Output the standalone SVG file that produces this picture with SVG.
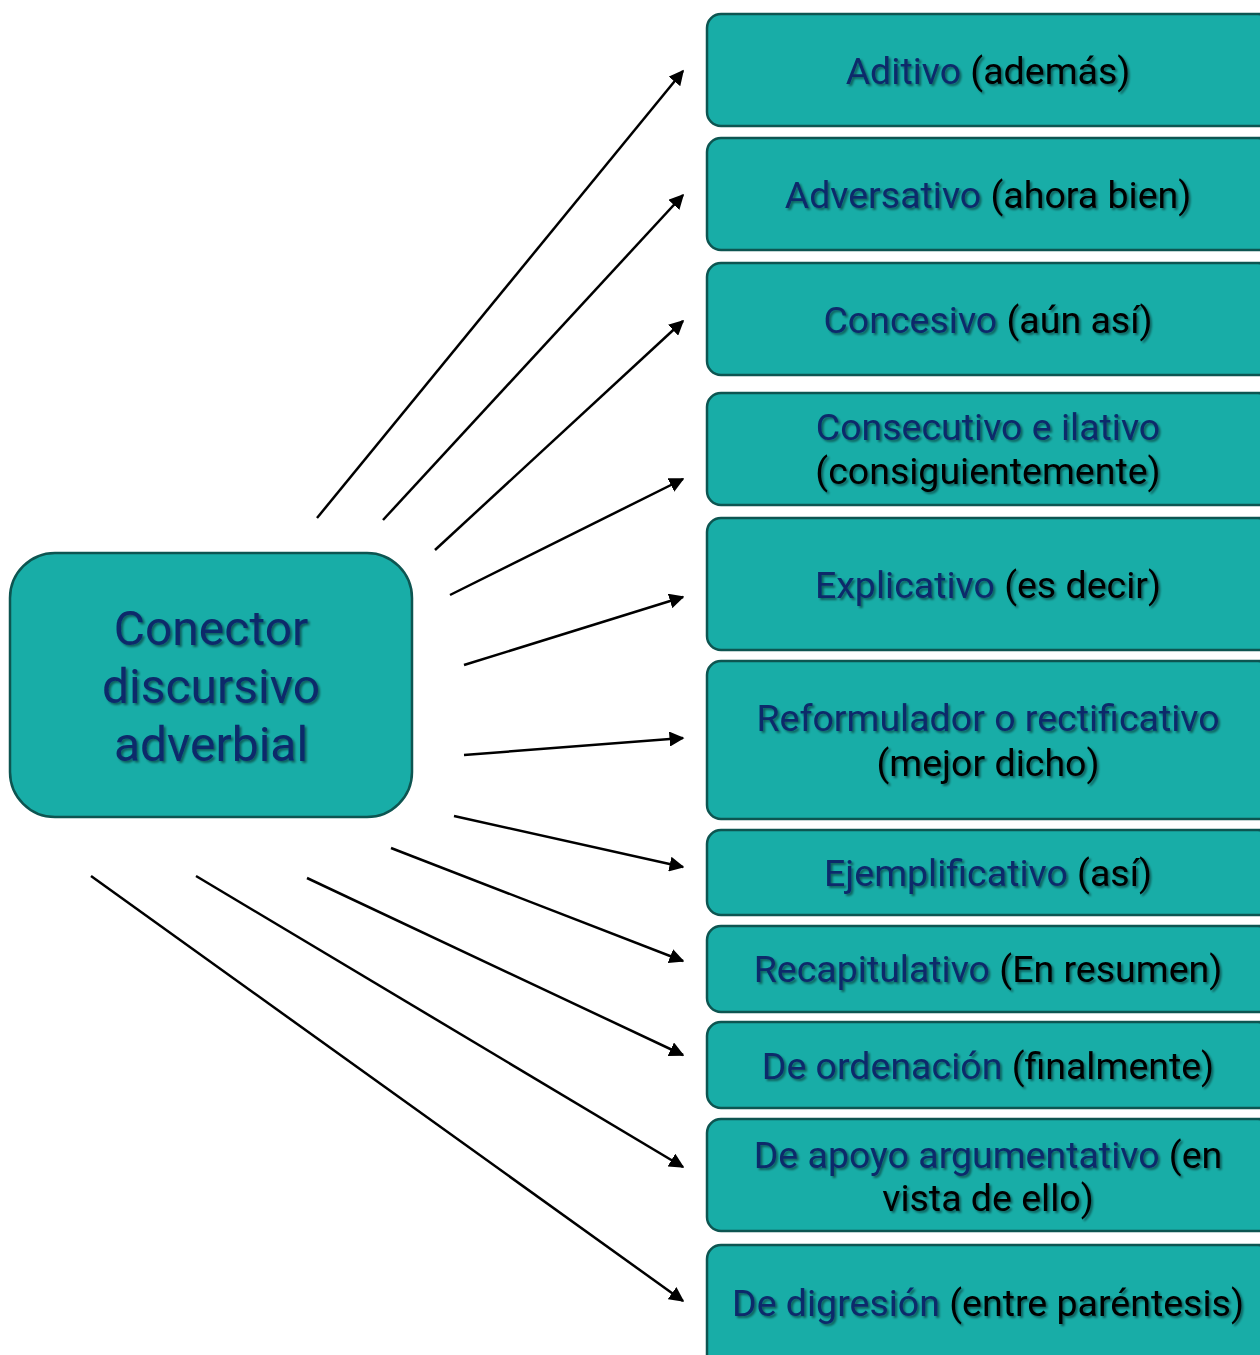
<svg xmlns="http://www.w3.org/2000/svg" width="1260" height="1355" viewBox="0 0 1260 1355">
<defs>
<style>
.box{fill:#18ada7;stroke:#0d5551;stroke-width:2.5}
.t{font-family:Roboto,"Liberation Sans",sans-serif;font-size:37.5px;text-anchor:middle;fill:#000;filter:url(#sh)}
.b{fill:#0b2a6b}
.big{font-size:48px}
.c{stroke:#000;stroke-width:2.5;fill:none;marker-end:url(#ah)}
</style>
<marker id="ah" viewBox="0 0 10 10" refX="9" refY="5" markerWidth="6" markerHeight="6" orient="auto" markerUnits="strokeWidth">
<path d="M0,0 L10,5 L0,10 z" fill="#000"/>
</marker>
<filter id="sh" x="-10%" y="-20%" width="120%" height="150%">
<feDropShadow dx="2" dy="2" stdDeviation="1.2" flood-color="#000" flood-opacity="0.45"/>
</filter>
</defs>
<rect width="1260" height="1355" fill="#fff"/>
<g id="connectors">
<line class="c" x1="317" y1="518" x2="683" y2="71"/>
<line class="c" x1="383" y1="520" x2="683" y2="195"/>
<line class="c" x1="435" y1="550" x2="683" y2="321"/>
<line class="c" x1="450" y1="595" x2="683" y2="479"/>
<line class="c" x1="464" y1="665" x2="683" y2="597"/>
<line class="c" x1="464" y1="755" x2="683" y2="738"/>
<line class="c" x1="454" y1="816" x2="683" y2="867"/>
<line class="c" x1="391" y1="848" x2="683" y2="961"/>
<line class="c" x1="307" y1="878" x2="683" y2="1055"/>
<line class="c" x1="196" y1="876" x2="683" y2="1167"/>
<line class="c" x1="91" y1="876" x2="683" y2="1301"/>
</g>
<g id="root">
<rect class="box" x="10" y="553" width="402" height="264" rx="45"/>
<text class="t big b" x="211" y="645">Conector</text>
<text class="t big b" x="211" y="703">discursivo</text>
<text class="t big b" x="211" y="761">adverbial</text>
</g>
<g id="n1">
<rect class="box" x="707" y="14" width="565" height="112" rx="14"/>
<text class="t" x="988" y="84"><tspan class="b">Aditivo</tspan> (además)</text>
</g>
<g id="n2">
<rect class="box" x="707" y="138" width="565" height="112" rx="14"/>
<text class="t" x="988" y="208"><tspan class="b">Adversativo</tspan> (ahora bien)</text>
</g>
<g id="n3">
<rect class="box" x="707" y="263" width="565" height="112" rx="14"/>
<text class="t" x="988" y="333"><tspan class="b">Concesivo</tspan> (aún así)</text>
</g>
<g id="n4">
<rect class="box" x="707" y="393" width="565" height="112" rx="14"/>
<text class="t" x="988" y="440"><tspan class="b">Consecutivo e ilativo</tspan></text>
<text class="t" x="988" y="484">(consiguientemente)</text>
</g>
<g id="n5">
<rect class="box" x="707" y="518" width="565" height="132" rx="14"/>
<text class="t" x="988" y="598"><tspan class="b">Explicativo</tspan> (es decir)</text>
</g>
<g id="n6">
<rect class="box" x="707" y="661" width="565" height="158" rx="14"/>
<text class="t" x="988" y="731"><tspan class="b">Reformulador o rectificativo</tspan></text>
<text class="t" x="988" y="776">(mejor dicho)</text>
</g>
<g id="n7">
<rect class="box" x="707" y="830" width="565" height="85" rx="14"/>
<text class="t" x="988" y="886"><tspan class="b">Ejemplificativo</tspan> (así)</text>
</g>
<g id="n8">
<rect class="box" x="707" y="926" width="565" height="86" rx="14"/>
<text class="t" x="988" y="982"><tspan class="b">Recapitulativo</tspan> (En resumen)</text>
</g>
<g id="n9">
<rect class="box" x="707" y="1022" width="565" height="86" rx="14"/>
<text class="t" x="988" y="1079"><tspan class="b">De ordenación</tspan> (finalmente)</text>
</g>
<g id="n10">
<rect class="box" x="707" y="1119" width="565" height="112" rx="14"/>
<text class="t" x="988" y="1168"><tspan class="b">De apoyo argumentativo</tspan> (en</text>
<text class="t" x="988" y="1211">vista de ello)</text>
</g>
<g id="n11">
<rect class="box" x="707" y="1245" width="565" height="130" rx="14"/>
<text class="t" x="988" y="1316"><tspan class="b">De digresión</tspan> (entre paréntesis)</text>
</g>
</svg>
